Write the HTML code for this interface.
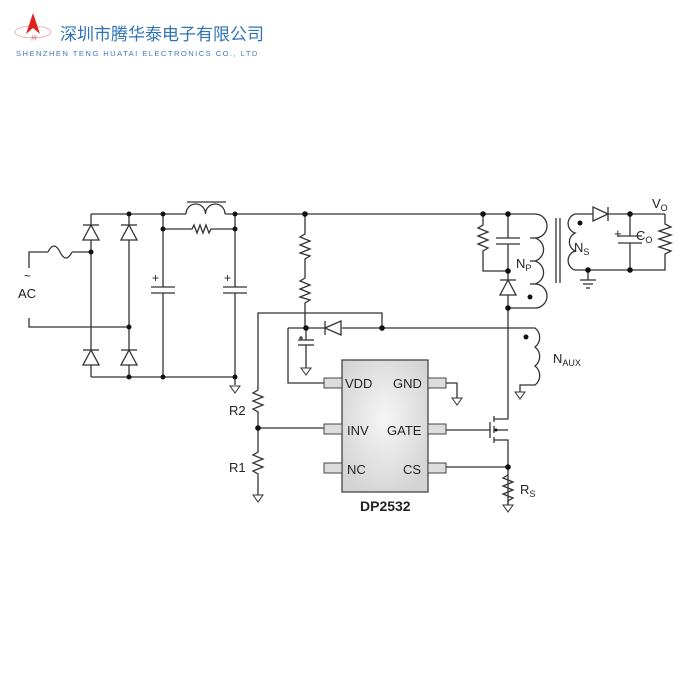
<!DOCTYPE html>
<html><head><meta charset="utf-8"><style>
html,body{margin:0;padding:0;background:#fff;width:700px;height:700px;overflow:hidden}
svg{display:block}
text{font-family:"Liberation Sans",Arial,sans-serif;fill:#222}
</style></head><body>
<svg width="700" height="700" viewBox="0 0 700 700" xmlns="http://www.w3.org/2000/svg">
<defs>
<radialGradient id="ic" cx="50%" cy="45%" r="60%"><stop offset="0" stop-color="#f6f6f6"/><stop offset="1" stop-color="#d4d4d4"/></radialGradient>
</defs>
<!-- logo -->
<ellipse cx="33" cy="32" rx="18" ry="6" fill="none" stroke="#e8a0a0" stroke-width="0.8"/>
<polygon points="33,13 26,34 33,28 40,34" fill="#e02020"/>
<text x="31" y="40" font-size="6" fill="#d07070" style="fill:#d07070">卅</text>
<text x="60" y="40" font-size="17" style="fill:#2f73b6;font-family:'Liberation Sans','Noto Sans CJK SC',sans-serif">深圳市腾华泰电子有限公司</text>
<text x="16" y="56" font-size="7.6" letter-spacing="1.45" style="fill:#3f7bbd">SHENZHEN TENG HUATAI ELECTRONICS CO., LTD</text>

<g stroke="#333" stroke-width="1.3" fill="none">
<!-- AC -->
<polyline points="29,268 29,252 48,252"/>
<path d="M48,252 q6,-12 12,0 q6,12 12,0"/>
<line x1="72" y1="252" x2="91" y2="252"/>
<polyline points="29,318 29,327 129,327"/>
<!-- bridge -->
<line x1="91" y1="214" x2="91" y2="377"/>
<line x1="129" y1="214" x2="129" y2="377"/>
<line x1="91" y1="214" x2="186" y2="214"/>
<line x1="225" y1="214" x2="483" y2="214"/>
<line x1="91" y1="377" x2="235" y2="377"/>
<!-- diodes -->
<g fill="#fff">
<polygon points="91,225 83,240 99,240"/><line x1="83" y1="225" x2="99" y2="225"/>
<polygon points="129,225 121,240 137,240"/><line x1="121" y1="225" x2="137" y2="225"/>
<polygon points="91,350 83,365 99,365"/><line x1="83" y1="350" x2="99" y2="350"/>
<polygon points="129,350 121,365 137,365"/><line x1="121" y1="350" x2="137" y2="350"/>
</g>
<!-- bulk caps -->
<line x1="163" y1="214" x2="163" y2="287"/><line x1="163" y1="293" x2="163" y2="377"/>
<line x1="151" y1="287" x2="175" y2="287"/><line x1="151" y1="293" x2="175" y2="293"/>
<line x1="235" y1="214" x2="235" y2="287"/><line x1="235" y1="293" x2="235" y2="385"/>
<line x1="223" y1="287" x2="247" y2="287"/><line x1="223" y1="293" x2="247" y2="293"/>
<!-- inductor -->
<path d="M186,214 a9.75,10 0 0 1 19.5,0 a9.75,10 0 0 1 19.5,0"/>
<line x1="187" y1="202" x2="226" y2="202"/>
<polyline points="163,229 192,229 194,225 197,233 200,225 203,233 206,225 209,233 211,229 235,229"/>
<!-- startup resistors -->
<polyline points="305,214 305,234 300,237 310,241 300,245 310,249 300,253 310,256 305,259 305,278 300,281 310,285 300,289 310,293 300,297 310,300 305,303 305,328"/>
<!-- VDD diode row -->
<line x1="288" y1="328" x2="325" y2="328"/>
<line x1="342" y1="328" x2="515" y2="328"/>
<polygon points="325,328 341,321 341,335" fill="#fff"/><line x1="325" y1="321" x2="325" y2="335"/>
<polyline points="258,390 258,313 382,313 382,328"/>
<polyline points="288,328 288,383 324,383"/>
<!-- vdd cap -->
<line x1="306" y1="328" x2="306" y2="340"/><line x1="298" y1="340" x2="314" y2="340"/><line x1="298" y1="345" x2="314" y2="345"/>
<line x1="306" y1="345" x2="306" y2="368"/>
<line x1="301" y1="336" x2="301" y2="340"/><line x1="299" y1="338" x2="303" y2="338"/>
<!-- R2 R1 -->
<polyline points="258,390 253,393 263,397 253,401 263,405 253,409 258,412 258,452 253,455 263,459 253,463 263,467 253,471 258,474 258,495"/>
<line x1="258" y1="428" x2="324" y2="428"/>
<!-- IC -->
<rect x="342" y="360" width="86" height="132" fill="url(#ic)" stroke="#444"/>
<g fill="#ddd" stroke="#444" stroke-width="1">
<rect x="324" y="378" width="18" height="10"/><rect x="324" y="424" width="18" height="10"/><rect x="324" y="463" width="18" height="10"/>
<rect x="428" y="378" width="18" height="10"/><rect x="428" y="424" width="18" height="10"/><rect x="428" y="463" width="18" height="10"/>
</g>
<polyline points="446,383 457,383 457,398"/>
<line x1="446" y1="430" x2="490" y2="430"/>
<line x1="446" y1="467" x2="508" y2="467"/>
<!-- mosfet -->
<line x1="490" y1="422" x2="490" y2="438"/>
<line x1="494" y1="416" x2="494" y2="422"/><line x1="494" y1="426" x2="494" y2="433"/><line x1="494" y1="437" x2="494" y2="443"/>
<polyline points="494,419 508,419 508,308"/>
<polyline points="494,440 508,440 508,505"/>
<line x1="494" y1="430" x2="508" y2="430"/>
<polyline points="508,475 503,478 513,482 503,486 513,490 503,494 513,498 508,501 508,505"/>
<!-- primary side -->
<line x1="483" y1="214" x2="535" y2="214"/>
<polyline points="483,214 483,225 478,228 488,232 478,236 488,240 478,244 488,248 483,251 483,271 508,271"/>
<line x1="508" y1="214" x2="508" y2="238"/><line x1="496" y1="238" x2="520" y2="238"/><line x1="496" y1="244" x2="520" y2="244"/>
<line x1="508" y1="244" x2="508" y2="308"/>
<polygon points="508,280 500,295 516,295" fill="#fff"/><line x1="500" y1="280" x2="516" y2="280"/>
<path d="M535,214 a12,12 0 0 1 0,24 a12,12 0 0 1 0,23 a12,12 0 0 1 0,23 a12,12 0 0 1 0,24 M535,308 L508,308 M535,214 l0,0"/>
<line x1="535" y1="238" x2="530" y2="238"/><line x1="535" y1="261" x2="530" y2="261"/><line x1="535" y1="284" x2="530" y2="284"/>
<line x1="556" y1="218" x2="556" y2="283"/><line x1="560" y1="218" x2="560" y2="283"/>
<!-- secondary -->
<path d="M575,214 a10,10 0 0 0 0,19 a10,10 0 0 0 0,18 a10,10 0 0 0 0,19"/>
<line x1="575" y1="214" x2="593" y2="214"/>
<polygon points="593,207 593,221 608,214" fill="#fff"/><line x1="608" y1="207" x2="608" y2="221"/>
<line x1="608" y1="214" x2="665" y2="214"/>
<polyline points="575,270 665,270 665,254 671,251 659,247 671,243 659,239 671,235 659,231 671,227 665,224 665,214"/>
<line x1="630" y1="214" x2="630" y2="236"/><line x1="618" y1="236" x2="642" y2="236"/><line x1="618" y1="243" x2="642" y2="243"/><line x1="630" y1="243" x2="630" y2="270"/>
<line x1="588" y1="270" x2="588" y2="280"/><line x1="580" y1="280" x2="596" y2="280"/><line x1="583" y1="284" x2="593" y2="284"/><line x1="586" y1="288" x2="590" y2="288"/>
<!-- aux -->
<path d="M515,328 L535,328 a12,12 0 0 1 0,19 a12,12 0 0 1 0,19 a12,12 0 0 1 0,19 L520,385 L520,392"/>
<!-- grounds -->
<g stroke-width="1">
<polygon points="230,386 240,386 235,393"/>
<polygon points="301,368 311,368 306,375"/>
<polygon points="452,398 462,398 457,405"/>
<polygon points="253,495 263,495 258,502"/>
<polygon points="503,505 513,505 508,512"/>
<polygon points="515,392 525,392 520,399"/>
</g>
</g>
<!-- dots -->
<g fill="#111">
<circle cx="91" cy="252" r="2.5"/><circle cx="129" cy="214" r="2.5"/><circle cx="129" cy="327" r="2.5"/>
<circle cx="163" cy="214" r="2.5"/><circle cx="163" cy="229" r="2.5"/><circle cx="235" cy="214" r="2.5"/><circle cx="235" cy="229" r="2.5"/>
<circle cx="129" cy="377" r="2.5"/><circle cx="163" cy="377" r="2.5"/><circle cx="235" cy="377" r="2.5"/>
<circle cx="305" cy="214" r="2.8"/><circle cx="306" cy="328" r="2.8"/><circle cx="382" cy="328" r="2.8"/>
<circle cx="258" cy="428" r="2.8"/><circle cx="508" cy="467" r="2.8"/>
<circle cx="483" cy="214" r="2.8"/><circle cx="508" cy="214" r="2.8"/><circle cx="508" cy="271" r="2.8"/><circle cx="508" cy="308" r="2.8"/>
<circle cx="630" cy="214" r="2.8"/><circle cx="630" cy="270" r="2.8"/><circle cx="588" cy="270" r="2.8"/>
<circle cx="530" cy="297" r="2.5"/><circle cx="580" cy="223" r="2.5"/><circle cx="526" cy="337" r="2.5"/>
<circle cx="496" cy="430" r="1.5"/>
</g>
<text x="24" y="280" font-size="12">~</text>
<text x="18" y="298" font-size="13">AC</text>
<text x="152" y="282" font-size="12">+</text>
<text x="224" y="282" font-size="12">+</text>
<text x="614" y="238" font-size="13">+</text>
<text x="229" y="415" font-size="13">R2</text>
<text x="229" y="472" font-size="13">R1</text>
<text x="520" y="494" font-size="13">R<tspan font-size="9" dy="3">S</tspan></text>
<text x="516" y="268" font-size="13">N<tspan font-size="9" dy="3">P</tspan></text>
<text x="574" y="252" font-size="13">N<tspan font-size="9" dy="3">S</tspan></text>
<text x="636" y="240" font-size="13">C<tspan font-size="9" dy="3">O</tspan></text>
<text x="652" y="208" font-size="13">V<tspan font-size="9" dy="3">O</tspan></text>
<text x="553" y="363" font-size="13">N<tspan font-size="9" dy="3">AUX</tspan></text>
<g font-size="13">
<text x="345" y="388">VDD</text><text x="347" y="435">INV</text><text x="347" y="474">NC</text>
<text x="393" y="388">GND</text><text x="387" y="435">GATE</text><text x="403" y="474">CS</text>
</g>
<text x="360" y="511" font-size="14" font-weight="bold">DP2532</text>
</svg>
</body></html>
